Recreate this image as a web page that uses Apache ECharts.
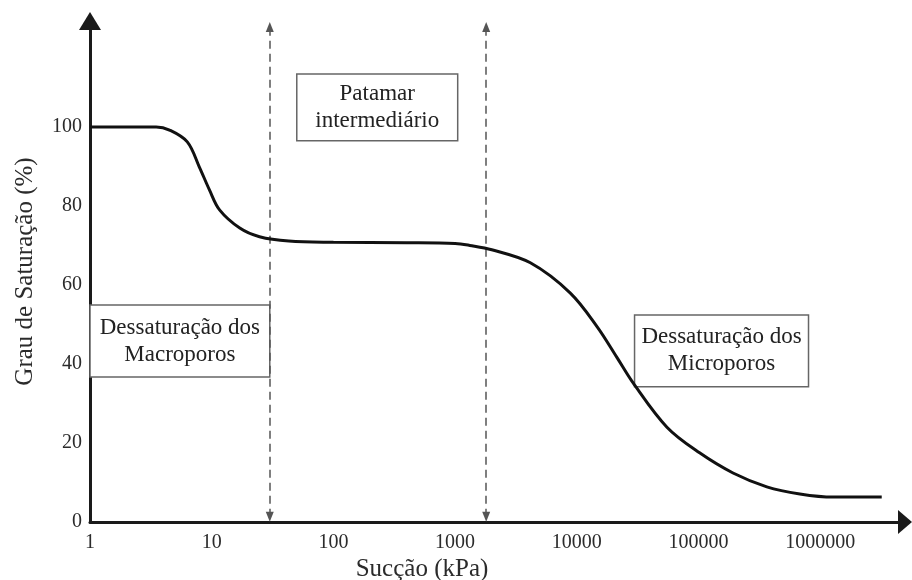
<!DOCTYPE html>
<html><head><meta charset="utf-8">
<script src="https://cdn.jsdelivr.net/npm/echarts@6/dist/echarts.min.js"></script>
<style>html,body{margin:0;padding:0;background:#fff}#c{width:912px;height:580px}</style>
</head><body><div id="c"></div>
<script>
// Retention curve (suction in kPa, degree of saturation in %)
const suction = [1, 3.5, 4.5, 6.3, 7.9, 9.6, 11.6, 17, 24.7, 43, 100, 400, 1000, 1320, 2000, 4150, 8800, 14700, 21400, 29000, 55000, 102000, 192000, 364000, 680000, 1280000, 3200000];
const saturation = [100, 100, 99.2, 96.2, 89.9, 84, 79, 74.4, 72.2, 71.1, 70.8, 70.7, 70.5, 70, 68.9, 65.6, 58, 49.4, 41.6, 35.2, 24, 17.5, 12.4, 8.9, 7.1, 6.3, 6.3];

// Tick labels
const xTickValues = [1, 10, 100, 1000, 10000, 100000, 1000000];
const xTickLabels = ['1', '10', '100', '1000', '10000', '100000', '1000000'];
const yTickValues = [0, 20, 40, 60, 80, 100];
const yTickLabels = ['0', '20', '40', '60', '80', '100'];

// Zone boundaries (kPa) and their vertical extent (%)
const boundaries = [30, 1800];
const boundaryRange = [1.3, 125.3];

// Annotation boxes (data units)
const boxLabels = ['Dessaturação dos\nMacroporos', 'Patamar\nintermediário', 'Dessaturação dos\nMicroporos'];
const boxX = [[1, 30], [50, 1050], [29800, 801000]];
const boxY = [[36.7, 54.9], [96.5, 113.4], [34.2, 52.4]];

const xMax = 4970000, yMax = 126.8;
const FONT = '"Liberation Serif", "Times New Roman", serif';

const chart = echarts.init(document.getElementById('c'), null, {renderer: 'canvas'});
const points = suction.map((s, i) => [s, saturation[i]]);

chart.setOption({
  animation: false,
  backgroundColor: '#fff',
  grid: {left: 90, right: 7, top: 21, bottom: 58},
  xAxis: {
    type: 'log', logBase: 10, min: 1, max: xMax, splitNumber: 7,
    axisLine: {show: true, lineStyle: {color: '#1a1a1a', width: 3}, symbol: ['none', 'triangle'], symbolSize: [24, 14]},
    axisTick: {show: false},
    splitLine: {show: false},
    axisLabel: {
      margin: 11, color: '#2b2b2b', fontFamily: FONT, fontSize: 20,
      formatter: v => { const i = xTickValues.indexOf(Math.round(v)); return i >= 0 ? xTickLabels[i] : ''; }
    }
  },
  yAxis: {
    type: 'value', min: 0, max: yMax, interval: 20,
    name: 'Grau de Saturação (%)', nameLocation: 'middle', nameGap: 52,
    nameTextStyle: {color: '#2b2b2b', fontFamily: FONT, fontSize: 25},
    axisLine: {show: true, lineStyle: {color: '#1a1a1a', width: 3}, symbol: ['none', 'triangle'], symbolSize: [22, 18]},
    axisTick: {show: false},
    splitLine: {show: false},
    axisLabel: {
      margin: 8, color: '#2b2b2b', fontFamily: FONT, fontSize: 20,
      formatter: v => { const i = yTickValues.indexOf(Math.round(v)); return (i >= 0 && Math.abs(v - yTickValues[i]) < 1e-6) ? yTickLabels[i] : ''; }
    }
  },
  graphic: [{
    type: 'text', x: 422, y: 569,
    style: {text: 'Sucção (kPa)', font: '25px ' + FONT, fill: '#2b2b2b', align: 'center', verticalAlign: 'middle'}
  }],
  series: [{
    type: 'line',
    data: points,
    smooth: 0.35,
    showSymbol: false,
    silent: true,
    z: 5,
    lineStyle: {color: '#111', width: 3},
    markLine: {
      silent: true,
      symbol: ['triangle', 'triangle'],
      symbolSize: [8, 10],
      label: {show: false},
      lineStyle: {color: '#555', width: 1.5, type: [8, 5]},
      data: boundaries.map(b => [{coord: [b, boundaryRange[0]]}, {coord: [b, boundaryRange[1]]}])
    },
    markArea: {
      silent: true,
      itemStyle: {color: '#fff', borderColor: '#666', borderWidth: 1.5},
      label: {show: true, position: 'inside', color: '#222', fontFamily: FONT, fontSize: 23, lineHeight: 27},
      data: boxLabels.map((t, i) => [
        {name: t, xAxis: boxX[i][0], yAxis: boxY[i][1]},
        {xAxis: boxX[i][1], yAxis: boxY[i][0]}
      ])
    }
  }]
});
</script></body></html>
